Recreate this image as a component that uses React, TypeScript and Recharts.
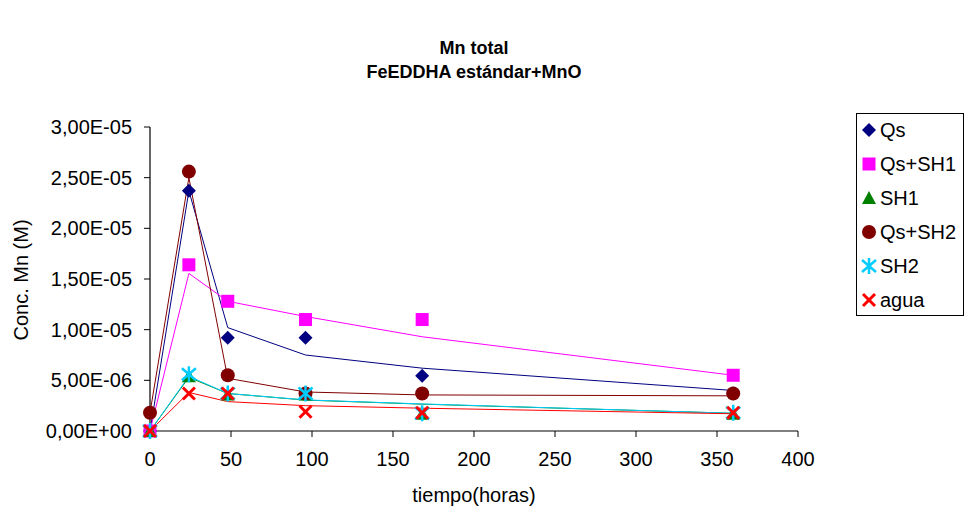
import React from 'react';
import { ComposedChart, Line, Scatter, XAxis, YAxis } from 'recharts';

// Sampling times (hours)
const HOURS = [0, 24, 48, 96, 168, 360];

// Measured values (markers)
const QS = [0, 2.37e-5, 9.2e-6, 9.2e-6, 5.45e-6, 3.7e-6];
const QS_SH1 = [0, 1.64e-5, 1.28e-5, 1.1e-5, 1.1e-5, 5.5e-6];
const SH1 = [0, 5.4e-6, 3.6e-6, 3.6e-6, 1.7e-6, 1.7e-6];
const QS_SH2 = [1.8e-6, 2.56e-5, 5.5e-6, 3.7e-6, 3.7e-6, 3.7e-6];
const SH2 = [0, 5.6e-6, 3.7e-6, 3.7e-6, 1.75e-6, 1.8e-6];
const AGUA = [0, 3.7e-6, 3.7e-6, 1.9e-6, 1.8e-6, 1.8e-6];

// Trend lines
const QS_LINE = [0, 2.37e-5, 1.02e-5, 7.5e-6, 6.2e-6, 4.0e-6];
const QS_SH1_LINE = [0, 1.555e-5, 1.28e-5, 1.13e-5, 9.3e-6, 5.5e-6];
const SH1_LINE = [0, 5.3e-6, 3.7e-6, 3.05e-6, 2.65e-6, 1.75e-6];
const QS_SH2_LINE = [1.8e-6, 2.5e-5, 5.2e-6, 3.85e-6, 3.56e-6, 3.47e-6];
const SH2_LINE = [0, 5.4e-6, 3.7e-6, 3.07e-6, 2.67e-6, 1.75e-6];
const AGUA_LINE = [0, 3.8e-6, 2.9e-6, 2.5e-6, 2.25e-6, 1.7e-6];

const X_TICKS = [0, 50, 100, 150, 200, 250, 300, 350, 400];
const Y_TICKS = [0, 5e-6, 1e-5, 1.5e-5, 2e-5, 2.5e-5, 3e-5];

const TITLE_1 = 'Mn total';
const TITLE_2 = 'FeEDDHA estándar+MnO';
const X_LABEL = 'tiempo(horas)';
const Y_LABEL = 'Conc. Mn (M)';
const SERIES_NAMES = ['Qs', 'Qs+SH1', 'SH1', 'Qs+SH2', 'SH2', 'agua'];

const data = HOURS.map((t, i) => ({
  t,
  qs: QS[i],
  qsSh1: QS_SH1[i],
  sh1: SH1[i],
  qsSh2: QS_SH2[i],
  sh2: SH2[i],
  agua: AGUA[i],
  qsL: QS_LINE[i],
  qsSh1L: QS_SH1_LINE[i],
  sh1L: SH1_LINE[i],
  qsSh2L: QS_SH2_LINE[i],
  sh2L: SH2_LINE[i],
  aguaL: AGUA_LINE[i],
}));

const FONT = '"Liberation Sans", Arial, sans-serif';

const fmtY = (v: number) => {
  if (v === 0) return '0,00E+00';
  const [m, e] = v.toExponential(2).split('e');
  const exp = parseInt(e, 10);
  const sign = exp < 0 ? '-' : '+';
  const ae = Math.abs(exp);
  return `${m.replace('.', ',')}E${sign}${ae < 10 ? '0' + ae : ae}`;
};

const C_NAVY = '#000080';
const C_MAG = '#FF00FF';
const C_GREEN = '#008000';
const C_DRED = '#800000';
const C_CYAN = '#00CCFF';
const C_RED = '#FF0000';

const Diamond = ({ cx, cy }: any) => (
  <polygon points={`${cx},${cy - 7} ${cx + 7},${cy} ${cx},${cy + 7} ${cx - 7},${cy}`} fill={C_NAVY} />
);
const Square = ({ cx, cy }: any) => <rect x={cx - 6.5} y={cy - 6.5} width={13} height={13} fill={C_MAG} />;
const Triangle = ({ cx, cy }: any) => (
  <polygon points={`${cx},${cy - 7} ${cx + 7},${cy + 6} ${cx - 7},${cy + 6}`} fill={C_GREEN} />
);
const Circle = ({ cx, cy }: any) => <circle cx={cx} cy={cy} r={7} fill={C_DRED} />;
const Star = ({ cx, cy }: any) => (
  <g stroke={C_CYAN} strokeWidth={2.5}>
    <line x1={cx} y1={cy - 8} x2={cx} y2={cy + 8} />
    <line x1={cx - 7} y1={cy - 6} x2={cx + 7} y2={cy + 6} />
    <line x1={cx - 7} y1={cy + 6} x2={cx + 7} y2={cy - 6} />
  </g>
);
const Cross = ({ cx, cy }: any) => (
  <g stroke={C_RED} strokeWidth={3}>
    <line x1={cx - 6} y1={cy - 6} x2={cx + 6} y2={cy + 6} />
    <line x1={cx - 6} y1={cy + 6} x2={cx + 6} y2={cy - 6} />
  </g>
);

const SHAPES = [Diamond, Square, Triangle, Circle, Star, Cross];

export default function App() {
  const tickStyle = { fontSize: 20, fill: '#000', fontFamily: FONT };
  return (
    <div style={{ position: 'absolute', left: 0, top: 0, width: 965, height: 509, background: '#fff', fontFamily: FONT }}>
      <ComposedChart width={965} height={509} data={data} margin={{ top: 127, right: 167, bottom: 38, left: 0 }}>
        <XAxis
          dataKey="t"
          type="number"
          domain={[0, 400]}
          ticks={X_TICKS}
          tick={tickStyle}
          tickSize={6}
          tickMargin={15}
          height={40}
          stroke="#000"
          axisLine={{ stroke: '#000', strokeWidth: 1.2 }}
          tickLine={{ stroke: '#000' }}
        />
        <YAxis
          type="number"
          domain={[0, 3e-5]}
          ticks={Y_TICKS}
          tickFormatter={fmtY}
          tick={tickStyle}
          tickSize={6}
          tickMargin={12}
          width={150}
          stroke="#000"
          axisLine={{ stroke: '#000', strokeWidth: 1.2 }}
          tickLine={{ stroke: '#000' }}
        />
        <Line dataKey="qsL" stroke={C_NAVY} strokeWidth={1} dot={false} isAnimationActive={false} />
        <Line dataKey="qsSh1L" stroke={C_MAG} strokeWidth={1} dot={false} isAnimationActive={false} />
        <Line dataKey="sh1L" stroke={C_GREEN} strokeWidth={1} dot={false} isAnimationActive={false} />
        <Line dataKey="qsSh2L" stroke={C_DRED} strokeWidth={1} dot={false} isAnimationActive={false} />
        <Line dataKey="sh2L" stroke={C_CYAN} strokeWidth={1} dot={false} isAnimationActive={false} />
        <Line dataKey="aguaL" stroke={C_RED} strokeWidth={1} dot={false} isAnimationActive={false} />
        <Scatter dataKey="qs" shape={<Diamond />} isAnimationActive={false} />
        <Scatter dataKey="qsSh1" shape={<Square />} isAnimationActive={false} />
        <Scatter dataKey="sh1" shape={<Triangle />} isAnimationActive={false} />
        <Scatter dataKey="qsSh2" shape={<Circle />} isAnimationActive={false} />
        <Scatter dataKey="sh2" shape={<Star />} isAnimationActive={false} />
        <Scatter dataKey="agua" shape={<Cross />} isAnimationActive={false} />
      </ComposedChart>
      <svg width={965} height={509} style={{ position: 'absolute', left: 0, top: 0, pointerEvents: 'none' }}>
        <text x={474} y={54} textAnchor="middle" fontSize={18} fontWeight="bold" fontFamily={FONT}>{TITLE_1}</text>
        <text x={474} y={78} textAnchor="middle" fontSize={18} fontWeight="bold" fontFamily={FONT}>{TITLE_2}</text>
        <text x={474} y={502} textAnchor="middle" fontSize={20} fontFamily={FONT}>{X_LABEL}</text>
        <text x={0} y={0} transform="translate(28,280) rotate(-90)" textAnchor="middle" fontSize={20} fontFamily={FONT}>{Y_LABEL}</text>
        <rect x={856.5} y={113.5} width={107} height={202} fill="#fff" stroke="#000" strokeWidth={1} />
        {SERIES_NAMES.map((name, i) => {
          const cy = 130 + i * 34;
          const S = SHAPES[i];
          return (
            <g key={name}>
              <S cx={869} cy={cy} />
              <text x={880} y={cy + 7} fontSize={20} fontFamily={FONT}>{name}</text>
            </g>
          );
        })}
      </svg>
    </div>
  );
}
